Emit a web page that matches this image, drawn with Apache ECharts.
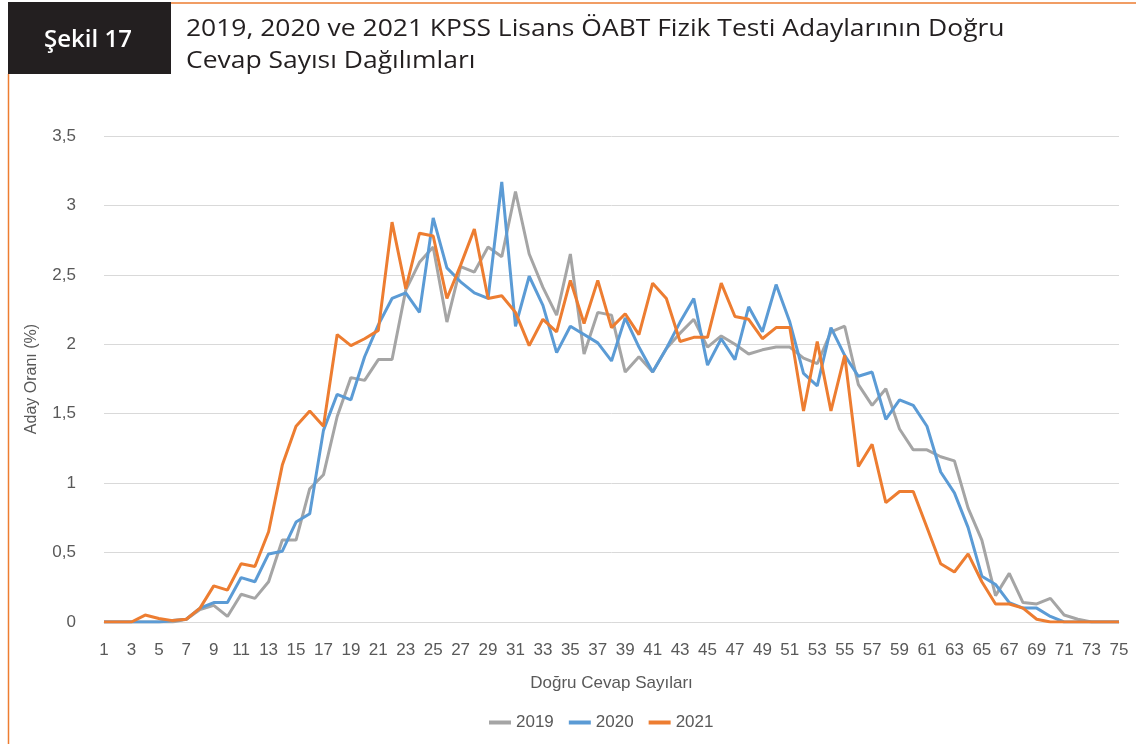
<!DOCTYPE html>
<html>
<head>
<meta charset="utf-8">
<script src="https://cdn.jsdelivr.net/npm/echarts@6/dist/echarts.min.js"></script>
<style>
  html, body { margin: 0; padding: 0; background: #fff; }
  #chart { width: 1136px; height: 744px; }
</style>
</head>
<body>
<div id="chart"></div>
<script>
// x categories: number of correct answers 1..75
const answers = ['1','2','3','4','5','6','7','8','9','10','11','12','13','14','15','16','17','18','19','20',
  '21','22','23','24','25','26','27','28','29','30','31','32','33','34','35','36','37','38','39','40',
  '41','42','43','44','45','46','47','48','49','50','51','52','53','54','55','56','57','58','59','60',
  '61','62','63','64','65','66','67','68','69','70','71','72','73','74','75']

const y2019 = [0, 0, 0, 0, 0, 0, 0.02, 0.09, 0.12, 0.04, 0.2, 0.17, 0.29, 0.59, 0.59, 0.96, 1.06, 1.48, 1.76, 1.74,
  1.89, 1.89, 2.39, 2.59, 2.7, 2.16, 2.56, 2.52, 2.7, 2.63, 3.1, 2.65, 2.41, 2.21, 2.65, 1.93, 2.23, 2.21, 1.8, 1.91,
  1.8, 1.97, 2.08, 2.18, 1.98, 2.06, 2.0, 1.93, 1.96, 1.98, 1.98, 1.9, 1.86, 2.09, 2.13, 1.71, 1.56, 1.68, 1.39, 1.24,
  1.24, 1.19, 1.16, 0.82, 0.59, 0.19, 0.35, 0.14, 0.13, 0.17, 0.05, 0.02, 0, 0, 0]

const y2020 = [0, 0, 0, 0, 0, 0.01, 0.02, 0.1, 0.14, 0.14, 0.32, 0.29, 0.49, 0.51, 0.72, 0.78, 1.38, 1.64, 1.6, 1.91,
  2.14, 2.33, 2.37, 2.23, 2.91, 2.55, 2.45, 2.37, 2.33, 3.17, 2.13, 2.49, 2.28, 1.94, 2.13, 2.07, 2.01, 1.88, 2.19, 1.98,
  1.8, 1.97, 2.16, 2.33, 1.85, 2.04, 1.89, 2.27, 2.09, 2.43, 2.16, 1.79, 1.7, 2.12, 1.92, 1.77, 1.8, 1.46, 1.6, 1.56,
  1.41, 1.08, 0.93, 0.68, 0.33, 0.27, 0.14, 0.1, 0.1, 0.04, 0, 0, 0, 0, 0]

const y2021 = [0, 0, 0, 0.05, 0.025, 0.01, 0.02, 0.1, 0.26, 0.23, 0.42, 0.4, 0.65, 1.13, 1.41, 1.52, 1.41, 2.07, 1.99, 2.04,
  2.1, 2.88, 2.4, 2.8, 2.78, 2.33, 2.57, 2.83, 2.33, 2.35, 2.23, 1.99, 2.18, 2.09, 2.46, 2.15, 2.46, 2.12, 2.22, 2.07,
  2.44, 2.33, 2.02, 2.05, 2.05, 2.44, 2.2, 2.18, 2.04, 2.12, 2.12, 1.52, 2.02, 1.52, 1.92, 1.12, 1.28, 0.86, 0.94, 0.94,
  0.68, 0.42, 0.36, 0.49, 0.29, 0.13, 0.13, 0.1, 0.02, 0, 0, 0, 0, 0, 0]

const years = ['2019', '2020', '2021']
const colors = ['#a5a5a5', '#5b9bd5', '#ed7d31']

const axisFont = '"Liberation Sans Narrow", "Liberation Sans", sans-serif'
const titleFont = '"Open Sans", sans-serif'
const chart = echarts.init(document.getElementById('chart'), null, { renderer: 'canvas' })

chart.setOption({
  animation: false,
  color: colors,
  graphic: [
    { type: 'rect', left: 8, top: 2, shape: { width: 163, height: 72 }, style: { fill: '#231f20' } },
    { type: 'line', shape: { x1: 171, y1: 3, x2: 1136, y2: 3 }, style: { stroke: '#ed7d31', lineWidth: 1.5 } },
    { type: 'line', shape: { x1: 8.5, y1: 74, x2: 8.5, y2: 744 }, style: { stroke: '#ed7d31', lineWidth: 1.5 } },
    { type: 'text', x: 88, y: 40, style: { text: 'Şekil 17', fill: '#fff', font: '600 24px ' + titleFont, align: 'center', verticalAlign: 'middle' } },
    // the original title face is wider than anything installed, so stretch it a little
    { type: 'text', x: 186, y: 29, scaleX: 1.15, style: { text: '2019, 2020 ve 2021 KPSS Lisans ÖABT Fizik Testi Adaylarının Doğru', fill: '#231f20', font: '23px ' + titleFont, verticalAlign: 'middle' } },
    { type: 'text', x: 186, y: 61, scaleX: 1.15, style: { text: 'Cevap Sayısı Dağılımları', fill: '#231f20', font: '23px ' + titleFont, verticalAlign: 'middle' } }
  ],
  legend: {
    data: years,
    bottom: 8,
    left: 484,
    itemWidth: 22,
    itemHeight: 4,
    itemGap: 15,
    icon: 'rect',
    textStyle: { color: '#595959', fontSize: 17, fontFamily: axisFont }
  },
  grid: { left: 104, right: 17, top: 136, bottom: 122 },
  xAxis: {
    type: 'category',
    data: answers,
    boundaryGap: false,
    name: 'Doğru Cevap Sayıları',
    nameLocation: 'middle',
    nameGap: 53,
    nameTextStyle: { color: '#595959', fontSize: 17, fontFamily: axisFont },
    axisLine: { lineStyle: { color: '#d9d9d9', width: 1 } },
    axisTick: { show: false },
    axisLabel: { interval: 1, color: '#595959', fontSize: 17, fontFamily: axisFont, margin: 20 }
  },
  yAxis: {
    type: 'value',
    min: 0,
    max: 3.5,
    interval: 0.5,
    name: 'Aday Oranı (%)',
    nameLocation: 'middle',
    nameGap: 64,
    nameTextStyle: { color: '#595959', fontSize: 16, fontFamily: axisFont },
    axisLine: { show: false },
    axisTick: { show: false },
    splitLine: { lineStyle: { color: '#d9d9d9', width: 1 } },
    axisLabel: {
      color: '#595959', fontSize: 17, fontFamily: axisFont, margin: 28,
      formatter: (v) => String(v).replace('.', ',')
    }
  },
  series: [y2019, y2020, y2021].map((d, i) => ({
    name: years[i],
    type: 'line',
    data: d,
    symbol: 'none',
    lineStyle: { width: 3, color: colors[i] },
    itemStyle: { color: colors[i] }
  }))
})
</script>
</body>
</html>
